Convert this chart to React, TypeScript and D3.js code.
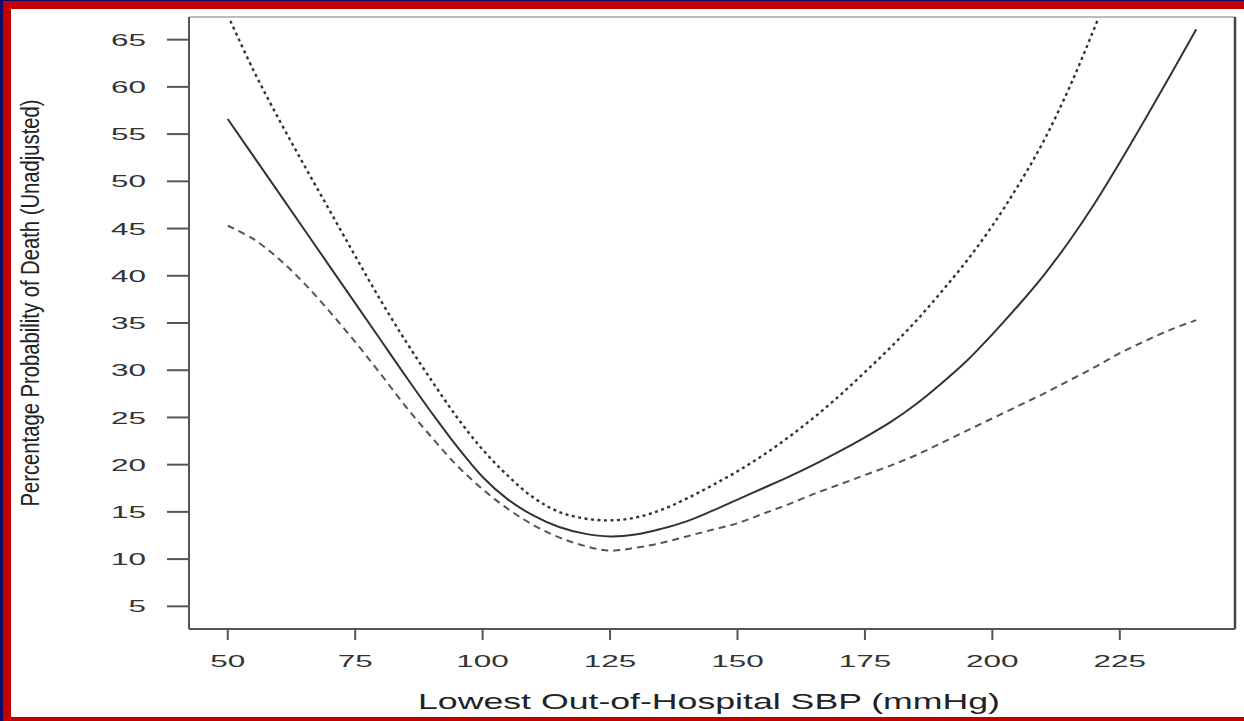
import React, { useEffect, useRef } from 'react';
import * as d3 from 'd3';

// Lowest out-of-hospital SBP vs. unadjusted probability of death (fit + CI band)
const sbp = [50, 55, 60, 65, 70, 75, 80, 85, 90, 95, 100, 105, 110, 115, 120, 125, 130, 135, 140, 145,
  150, 155, 160, 165, 170, 175, 180, 185, 190, 195, 200, 205, 210, 215, 220, 225, 230, 235, 240];
const fit = [56.6, 52.7, 48.8, 44.9, 41.0, 37.1, 33.2, 29.3, 25.5, 21.9, 18.7, 16.3, 14.6, 13.4, 12.7, 12.4, 12.6, 13.2, 14.0, 15.1,
  16.3, 17.5, 18.7, 20.0, 21.4, 22.9, 24.5, 26.4, 28.6, 31.0, 33.8, 36.8, 40.0, 43.6, 47.6, 52.0, 56.6, 61.3, 66.1];
const upper = [67.6, 61.8, 56.6, 51.7, 46.9, 42.1, 37.4, 33.0, 28.9, 25.0, 21.6, 18.8, 16.5, 15.0, 14.3, 14.1, 14.4, 15.2, 16.4, 17.8,
  19.3, 21.0, 22.9, 25.0, 27.3, 29.8, 32.4, 35.2, 38.3, 41.6, 45.3, 49.5, 54.2, 59.8, 66.2, 73.0, 80.5, 88.0, 96.0];
const lower = [45.3, 43.9, 41.8, 39.2, 36.2, 33.0, 29.6, 26.1, 22.9, 19.9, 17.4, 15.3, 13.6, 12.3, 11.4, 10.9, 11.2, 11.7, 12.4, 13.1,
  13.8, 14.8, 15.8, 16.9, 17.9, 18.9, 19.9, 21.0, 22.3, 23.6, 24.9, 26.2, 27.5, 28.9, 30.3, 31.8, 33.1, 34.3, 35.3];
const xTicks = [50, 75, 100, 125, 150, 175, 200, 225];
const yTicks = [5, 10, 15, 20, 25, 30, 35, 40, 45, 50, 55, 60, 65];

const W = 1244, H = 721;
const FONT = '"Liberation Sans", Arial, Helvetica, sans-serif';

export default function App() {
  const ref = useRef<SVGSVGElement | null>(null);

  useEffect(() => {
    const svg = d3.select(ref.current);
    svg.selectAll('*').remove();

    // frame: navy edge, red band, white sheet
    svg.append('rect').attr('x', 0).attr('y', 0).attr('width', W).attr('height', H).attr('fill', '#0b0b6a');
    svg.append('rect').attr('x', 3).attr('y', 1).attr('width', W - 3).attr('height', H - 1).attr('fill', '#c20000');
    svg.append('rect').attr('x', 11).attr('y', 9).attr('width', W - 11).attr('height', 708).attr('fill', '#ffffff');

    const x = d3.scaleLinear().domain([42.4, 247.6]).range([189, 1235]);
    const y = d3.scaleLinear().domain([2.6, 67.4]).range([629, 17]);

    svg.append('clipPath').attr('id', 'plotclip')
      .append('rect').attr('x', 189).attr('y', 17).attr('width', 1235 - 189).attr('height', 629 - 17);

    const g = svg.append('g').attr('clip-path', 'url(#plotclip)');
    const mk = (vals: number[]) => d3.line<number>().x((_, i) => x(sbp[i])).y(v => y(v)).curve(d3.curveCatmullRom)(vals);

    g.append('path').attr('d', mk(upper)).attr('fill', 'none').attr('stroke', '#333')
      .attr('stroke-width', 2.4).attr('stroke-dasharray', '3,3.5');
    g.append('path').attr('d', mk(lower)).attr('fill', 'none').attr('stroke', '#555')
      .attr('stroke-width', 2).attr('stroke-dasharray', '7,5');
    g.append('path').attr('d', mk(fit)).attr('fill', 'none').attr('stroke', '#333').attr('stroke-width', 2);

    // box
    svg.append('line').attr('x1', 189).attr('x2', 1235).attr('y1', 17).attr('y2', 17).attr('stroke', '#bbb').attr('stroke-width', 2);
    svg.append('line').attr('x1', 1235).attr('x2', 1235).attr('y1', 17).attr('y2', 629).attr('stroke', '#444').attr('stroke-width', 2.5);
    svg.append('line').attr('x1', 189).attr('x2', 1235).attr('y1', 629).attr('y2', 629).attr('stroke', '#555').attr('stroke-width', 2);
    svg.append('line').attr('x1', 189).attr('x2', 189).attr('y1', 17).attr('y2', 629).attr('stroke', '#555').attr('stroke-width', 2);

    // y axis
    yTicks.forEach(t => {
      svg.append('line').attr('x1', 167).attr('x2', 189).attr('y1', y(t)).attr('y2', y(t)).attr('stroke', '#555').attr('stroke-width', 2);
      const s = String(t);
      svg.append('text').attr('x', 146).attr('y', y(t)).attr('dy', '0.36em').attr('text-anchor', 'end')
        .attr('font-family', FONT).attr('font-size', 17).attr('fill', '#333')
        .attr('textLength', 17.5 * s.length).attr('lengthAdjust', 'spacingAndGlyphs').text(s);
    });

    // x axis
    xTicks.forEach(t => {
      svg.append('line').attr('x1', x(t)).attr('x2', x(t)).attr('y1', 629).attr('y2', 640).attr('stroke', '#555').attr('stroke-width', 2);
      const s = String(t);
      svg.append('text').attr('x', x(t)).attr('y', 667).attr('text-anchor', 'middle')
        .attr('font-family', FONT).attr('font-size', 17).attr('fill', '#333')
        .attr('textLength', 17.5 * s.length).attr('lengthAdjust', 'spacingAndGlyphs').text(s);
    });

    svg.append('text').attr('x', 709).attr('y', 709).attr('text-anchor', 'middle')
      .attr('font-family', FONT).attr('font-size', 22).attr('fill', '#222')
      .attr('textLength', 582).attr('lengthAdjust', 'spacingAndGlyphs')
      .text('Lowest Out-of-Hospital SBP (mmHg)');

    svg.append('text').attr('transform', 'translate(39,303) scale(1.55,1) rotate(-90)')
      .attr('text-anchor', 'middle')
      .attr('font-family', FONT).attr('font-size', 17).attr('fill', '#222')
      .attr('textLength', 407).attr('lengthAdjust', 'spacingAndGlyphs')
      .text('Percentage Probability of Death (Unadjusted)');
  }, []);

  return <svg ref={ref} width={W} height={H} style={{ position: 'absolute', left: 0, top: 0 }} />;
}
